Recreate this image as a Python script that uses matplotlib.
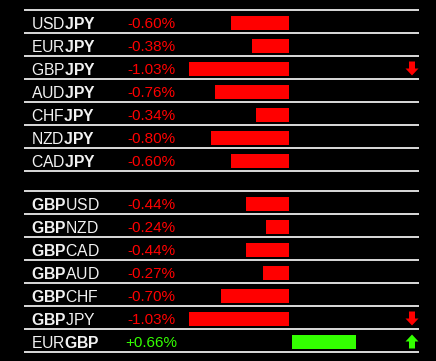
import matplotlib
matplotlib.use("Agg")
import matplotlib.pyplot as plt

# ---------------------------------------------------------------
# Données
# ---------------------------------------------------------------
pairs_jpy = ["USD", "EUR", "GBP", "AUD", "CHF", "NZD", "CAD"]
vals_jpy = [-0.60, -0.38, -1.03, -0.76, -0.34, -0.80, -0.60]
arrows_jpy = [0, 0, -1, 0, 0, 0, 0]

pairs_gbp = ["GBPUSD", "GBPNZD", "GBPCAD", "GBPAUD", "GBPCHF", "GBPJPY", "EURGBP"]
vals_gbp = [-0.44, -0.24, -0.44, -0.27, -0.70, -1.03, 0.66]
arrows_gbp = [0, 0, 0, 0, 0, -1, 1]

RED = "#ff0000"
GREEN = "#33ff00"
TXT = "#f2f2f2"
FONT = "Liberation Sans"
FS = 11
FS_LAB = 11.3

plt.rcParams["mathtext.fontset"] = "custom"
plt.rcParams["mathtext.rm"] = FONT
plt.rcParams["mathtext.bf"] = FONT + ":bold"

# géométrie en pixels
W, H = 436, 361
ROW = 23
X0, X1 = 24, 419          # lignes blanches
ZERO = 289                # origine des barres
PX_PCT = 97               # pixels par 1 %
TOP1 = 10                 # première ligne, bloc 1
TOP2 = 191                # première ligne, bloc 2

fig = plt.figure(figsize=(W / 100, H / 100), dpi=100, facecolor="black")
ax = fig.add_axes([0, 0, 1, 1])
ax.set_facecolor("black")
ax.set_xlim(0, W)
ax.set_ylim(H, 0)
ax.axis("off")


def block(top, names, vals, arrows):
    ax.hlines([top + i * ROW for i in range(len(names) + 1)], X0, X1,
              color="white", lw=1.2)
    ys = [top + ROW / 2 + 1 + i * ROW for i in range(len(names))]
    for y, lab, v, a in zip(ys, names, vals, arrows):
        ax.text(31, y, lab, color=TXT, fontsize=FS_LAB, family=FONT,
                va="center_baseline", ha="left")
        col = GREEN if v > 0 else RED
        ax.text(151, y, f"{v:+.2f}%", color=col, fontsize=FS, family=FONT,
                va="center_baseline", ha="center")
        if v < 0:
            ax.barh(y, v * PX_PCT, left=ZERO, height=14, color=col)
        else:
            ax.barh(y, v * PX_PCT, left=ZERO + 3, height=14, color=col)
        if a != 0:
            c = GREEN if a > 0 else RED
            # axe y inversé : vers le bas = dy positif
            ax.arrow(412, y + a * 7, 0, -a * 7, width=6, head_width=13,
                     head_length=7, length_includes_head=False, color=c, lw=0)


names1 = [p + r"$\mathbf{JPY}$" for p in pairs_jpy]
names2 = []
for n in pairs_gbp:
    if n.startswith("GBP"):
        names2.append(r"$\mathbf{GBP}$" + n[3:])
    else:
        names2.append(n[:3] + r"$\mathbf{GBP}$")

block(TOP1, names1, vals_jpy, arrows_jpy)
block(TOP2, names2, vals_gbp, arrows_gbp)

fig.savefig("out.png", dpi=100, facecolor="black")
